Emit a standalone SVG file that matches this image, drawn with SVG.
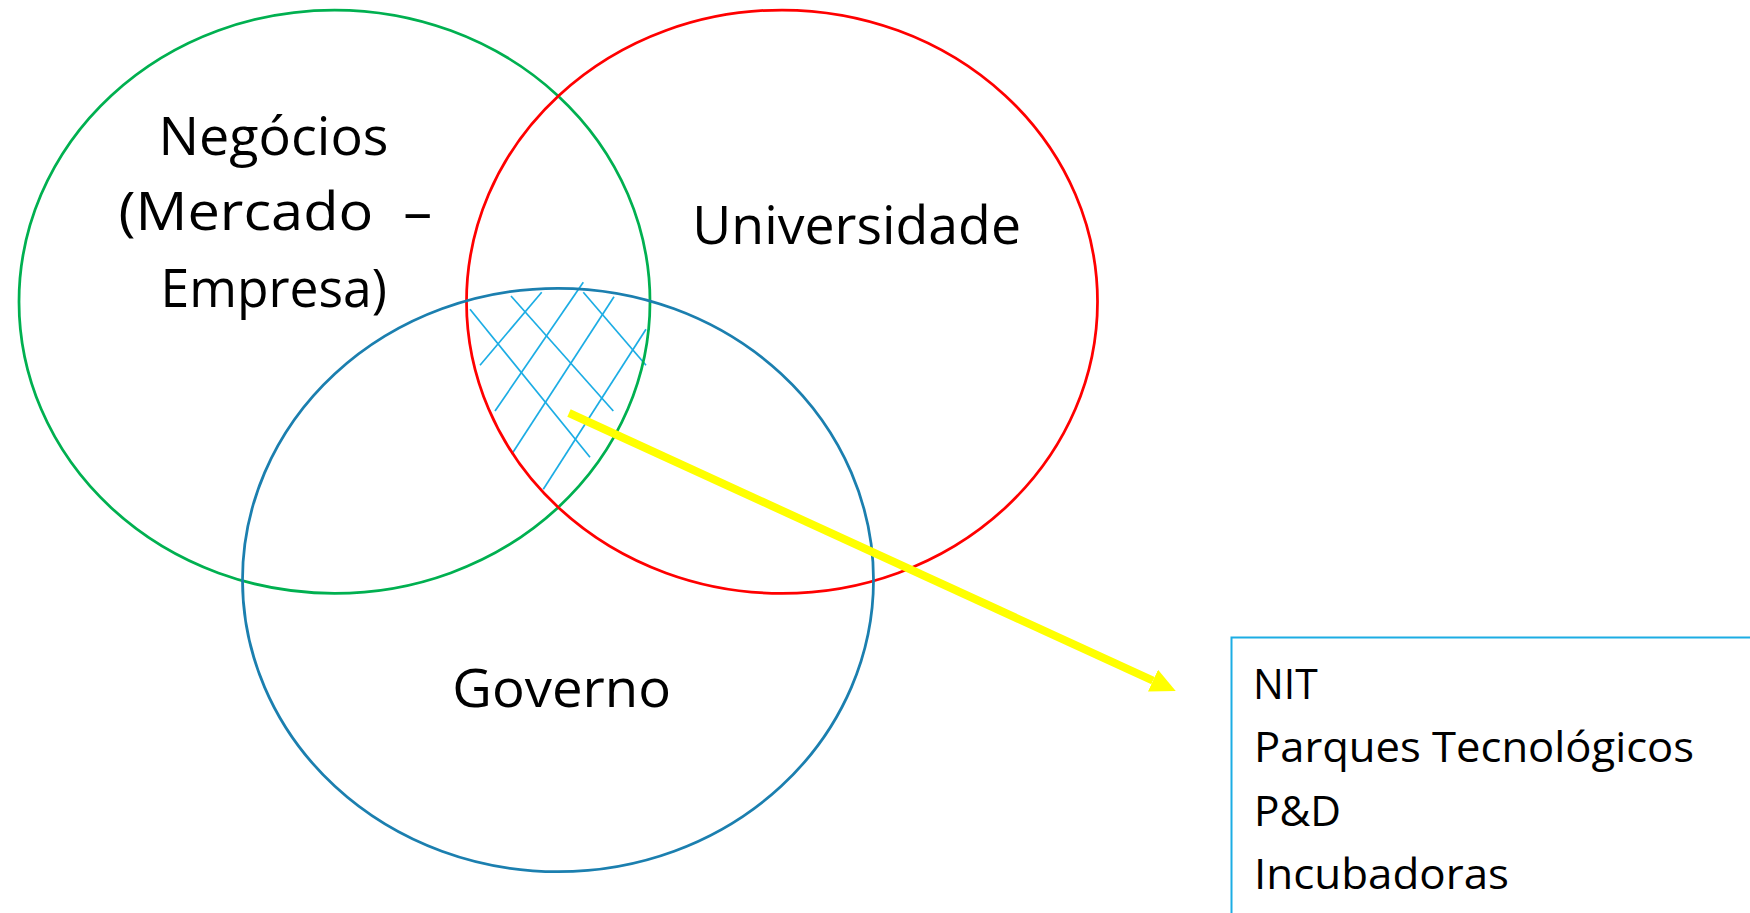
<svg xmlns="http://www.w3.org/2000/svg" width="1750" height="913" viewBox="0 0 1750 913">
<style>
  .venn { fill: none; stroke-width: 2.75; }
  .lbl { font-family: "Open Sans", "Liberation Sans", sans-serif; font-size: 53.3px; fill: #000; }
  .item { font-family: "Open Sans", "Liberation Sans", sans-serif; font-size: 42.7px; fill: #000; }
  .hatch line { stroke: #1CADE4; stroke-width: 1.7; }
</style>
<defs>
  <marker id="arrow" markerUnits="userSpaceOnUse" markerWidth="26" markerHeight="24" refX="0" refY="12" orient="auto">
    <path d="M0,0 L25,12 L0,24 Z" fill="#FFFF00"/>
  </marker>
</defs>
<rect width="1750" height="913" fill="#fff"/>
<g id="intersection" class="hatch">
  <line x1="470" y1="309.3" x2="590" y2="457.3"/>
  <line x1="511" y1="296" x2="613.3" y2="411"/>
  <line x1="583.3" y1="292.3" x2="646" y2="365.3"/>
  <line x1="541.7" y1="292.3" x2="480" y2="365.3"/>
  <line x1="583.3" y1="282.3" x2="495" y2="411"/>
  <line x1="614" y1="296.7" x2="511.7" y2="454.3"/>
  <line x1="646" y1="329.3" x2="543.3" y2="489.3"/>
</g>
<g id="negocios">
  <ellipse class="venn" cx="334.5" cy="301.7" rx="315.5" ry="291.7" stroke="#00B050"/>
  <text class="lbl" x="158.5" y="155" textLength="230" lengthAdjust="spacingAndGlyphs">Negócios</text>
  <text class="lbl" x="118.5" y="230" textLength="313.5" lengthAdjust="spacingAndGlyphs" xml:space="preserve">(Mercado  –</text>
  <text class="lbl" x="160.5" y="306.7" textLength="226.5" lengthAdjust="spacingAndGlyphs">Empresa)</text>
</g>
<g id="universidade">
  <ellipse class="venn" cx="782" cy="301.7" rx="315.5" ry="291.7" stroke="#FF0000"/>
  <text class="lbl" x="692.3" y="244" textLength="328.7" lengthAdjust="spacingAndGlyphs">Universidade</text>
</g>
<g id="governo">
  <ellipse class="venn" cx="558" cy="580" rx="315.5" ry="291.7" stroke="#1B7FAF"/>
  <text class="lbl" x="452.3" y="706.7" textLength="218.7" lengthAdjust="spacingAndGlyphs">Governo</text>
</g>
<g id="connectors">
  <line x1="569" y1="413" x2="1153" y2="680.6" stroke="#FFFF00" stroke-width="8" marker-end="url(#arrow)"/>
</g>
<g id="box">
  <rect x="1231.5" y="637.5" width="600" height="400" fill="none" stroke="#1CADE4" stroke-width="2"/>
  <text class="item" x="1253" y="699" textLength="64.7" lengthAdjust="spacingAndGlyphs">NIT</text>
  <text class="item" x="1254" y="761.7" textLength="440" lengthAdjust="spacingAndGlyphs">Parques Tecnológicos</text>
  <text class="item" x="1254" y="826" textLength="87" lengthAdjust="spacingAndGlyphs">P&amp;D</text>
  <text class="item" x="1254" y="889.3" textLength="255" lengthAdjust="spacingAndGlyphs">Incubadoras</text>
</g>
</svg>
